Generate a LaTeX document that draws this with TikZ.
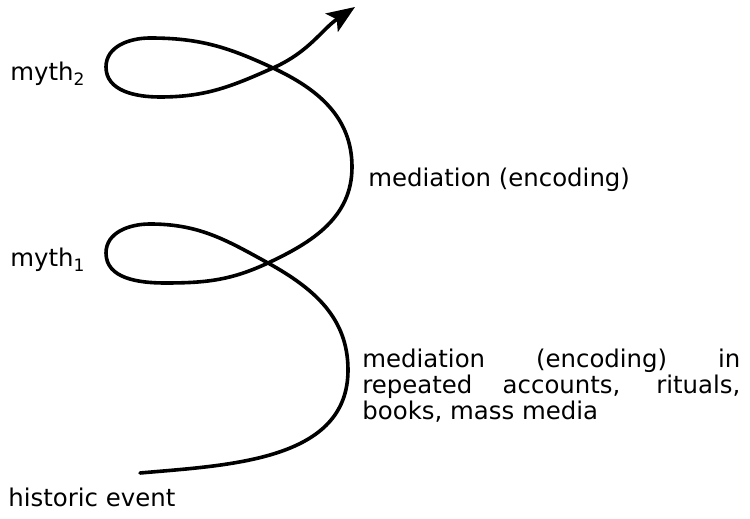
\documentclass[tikz,border=0pt]{standalone}
\usepackage{fontspec}
\setmainfont{DejaVu Sans}
\usepackage{tikz}
\usetikzlibrary{arrows.meta, positioning}

\begin{document}
\begin{tikzpicture}[x=0.5pt, y=0.5pt,
   font=\fontsize{12.2}{10.8}\selectfont,
   lbl/.style={inner sep=0pt, anchor=base west},
   spiral/.style={line width=1.8pt, line cap=round,
                  -{Stealth[length=14pt, width=11pt, inset=3pt]}}]
  \useasboundingbox (0,0) rectangle (750,519);
  % points of the spiral
  \coordinate (start) at (140,46);
  \coordinate (bulgeA) at (348,149);
  \coordinate (crossA) at (268,256);
  \coordinate (topA) at (150,295);
  \coordinate (leftA) at (106,266);
  \coordinate (botA) at (165,236);
  \coordinate (bulgeB) at (352,352);
  \coordinate (crossB) at (273,451);
  \coordinate (topB) at (150,481);
  \coordinate (leftB) at (106,452);
  \coordinate (botB) at (160,422);
  \coordinate (tip) at (355,512);
  % the spiral itself
  \draw[spiral] (start) to[out=5, in=-90] (bulgeA)
        to[out=90, in=-29] (crossA) to[out=151, in=0] (topA)
        to[out=180, in=90] (leftA) to[out=-90, in=180] (botA)
        to[out=0, in=205] (crossA) to[out=25, in=-90] (bulgeB)
        to[out=90, in=-25] (crossB) to[out=155, in=0] (topB)
        to[out=180, in=90] (leftB) to[out=-90, in=180] (botB)
        to[out=0, in=204] (crossB) to[out=24, in=214] (tip);
  % labels
  \node[lbl] (mythB) at (10,438) {myth\textsubscript{2}};
  \node[lbl] (mythA) at (10,252) {myth\textsubscript{1}};
  \node[lbl] (medB) at (368,332) {mediation (encoding)};
  \node[lbl, anchor=north west, text width=189pt, align=justify] (medA) at (362,170)
       {mediation (encoding) in\linebreak repeated accounts, rituals,\linebreak books, mass media};
  \node[lbl] (event) at (8,12) {historic event};
\end{tikzpicture}
\end{document}
